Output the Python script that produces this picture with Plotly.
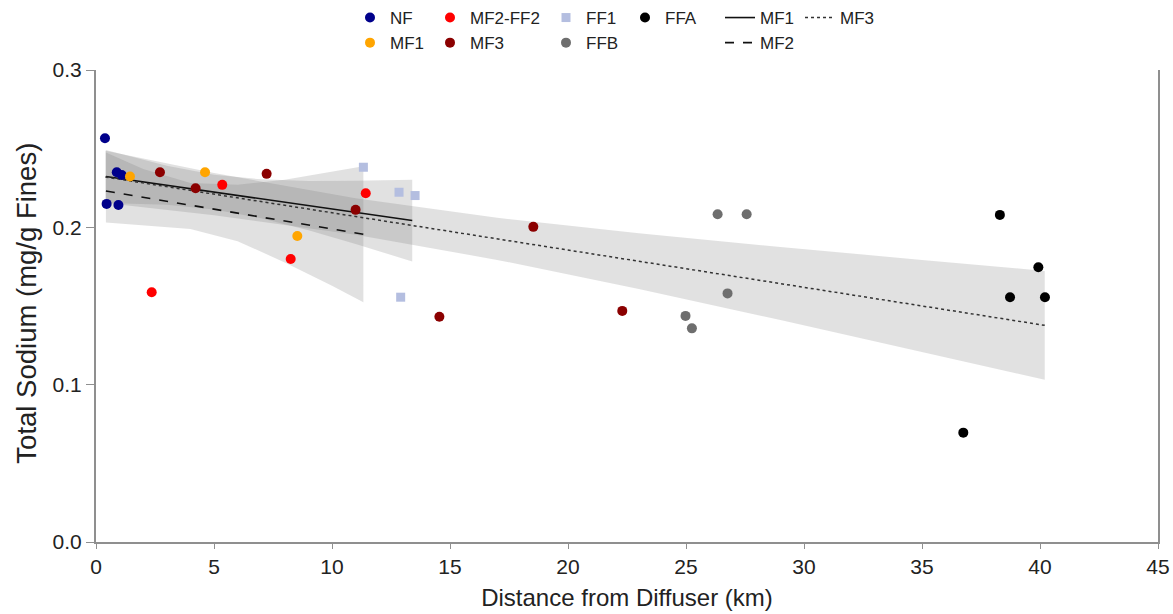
import plotly.graph_objects as go

# ---- sample groups: distance from diffuser (km) vs total sodium (mg/g fines) ----
nf_x = [0.38, 0.88, 1.09, 0.45, 0.95]
nf_y = [0.2566, 0.2350, 0.2333, 0.2149, 0.2142]

mf1_x = [1.44, 4.62, 8.53]
mf1_y = [0.2323, 0.2350, 0.1945]

mf2ff2_x = [2.36, 5.35, 8.25, 11.43]
mf2ff2_y = [0.1587, 0.2270, 0.1799, 0.2217]

mf3_x = [2.71, 4.22, 7.23, 11.00, 14.55, 18.53, 22.30]
mf3_y = [0.2350, 0.2248, 0.2340, 0.2111, 0.1432, 0.2003, 0.1469]

ff1_x = [11.33, 12.84, 13.52, 12.91]
ff1_y = [0.2382, 0.2223, 0.2202, 0.1556]

ffb_x = [26.34, 27.57, 26.76, 24.98, 25.25]
ffb_y = [0.2083, 0.2083, 0.1580, 0.1437, 0.1358]

ffa_x = [38.30, 39.93, 38.73, 40.21, 36.75]
ffa_y = [0.2079, 0.1746, 0.1556, 0.1556, 0.0695]

# ---- regression fits (end points) ----
fit_mf1_x = [0.42, 13.40]
fit_mf1_y = [0.2323, 0.2043]
fit_mf2_x = [0.42, 11.33]
fit_mf2_y = [0.2231, 0.1956]
fit_mf3_x = [0.40, 40.20]
fit_mf3_y = [0.2320, 0.1377]

# ---- 95% confidence bands ----
band_mf1_x = [0.42, 3, 5, 7, 9, 11, 13.4]
band_mf1_lo = [0.2154, 0.2144, 0.2114, 0.2058, 0.1981, 0.1894, 0.1783]
band_mf1_hi = [0.2492, 0.2391, 0.2334, 0.2305, 0.2295, 0.2296, 0.2303]

band_mf2_x = [0.42, 2, 4, 6, 8, 10, 11.33]
band_mf2_lo = [0.2030, 0.2010, 0.1990, 0.1912, 0.1777, 0.1628, 0.1524]
band_mf2_hi = [0.2475, 0.2371, 0.2281, 0.2270, 0.2303, 0.2352, 0.2388]

band_mf3_x = [0.4, 5, 11, 17, 23, 29, 35, 40.2]
band_mf3_lo = [0.2154, 0.2077, 0.1953, 0.1793, 0.1608, 0.1411, 0.1209, 0.1031]
band_mf3_hi = [0.2486, 0.2345, 0.2185, 0.2061, 0.1962, 0.1875, 0.1793, 0.1723]

FONT = "Liberation Sans, Arial, sans-serif"
BAND_FILL = "rgba(120,120,120,0.22)"

fig = go.Figure()

# confidence bands as closed polygons
for bx, lo, hi in [(band_mf3_x, band_mf3_lo, band_mf3_hi),
                   (band_mf1_x, band_mf1_lo, band_mf1_hi),
                   (band_mf2_x, band_mf2_lo, band_mf2_hi)]:
    fig.add_trace(go.Scatter(
        x=list(bx) + list(bx)[::-1], y=list(hi) + list(lo)[::-1],
        mode="lines", fill="toself", fillcolor=BAND_FILL,
        line=dict(width=0), hoverinfo="skip", showlegend=False))

# fitted lines
fig.add_trace(go.Scatter(x=fit_mf1_x, y=fit_mf1_y, mode="lines", name="MF1",
                         line=dict(color="#111111", width=1.6, dash="solid"),
                         legend="legend5"))
fig.add_trace(go.Scatter(x=fit_mf2_x, y=fit_mf2_y, mode="lines", name="MF2",
                         line=dict(color="#111111", width=1.6, dash="dash"),
                         legend="legend5"))
fig.add_trace(go.Scatter(x=fit_mf3_x, y=fit_mf3_y, mode="lines", name="MF3",
                         line=dict(color="#333333", width=1.5, dash="dot"),
                         legend="legend6"))

# sample points
groups = [
    ("NF", nf_x, nf_y, "#00008B", "circle", 10, "legend"),
    ("MF1", mf1_x, mf1_y, "#FFA500", "circle", 10, "legend"),
    ("MF2-FF2", mf2ff2_x, mf2ff2_y, "#FF0000", "circle", 10, "legend2"),
    ("MF3", mf3_x, mf3_y, "#8B0000", "circle", 10, "legend2"),
    ("FF1", ff1_x, ff1_y, "#B4BEE0", "square", 9, "legend3"),
    ("FFB", ffb_x, ffb_y, "#6E6E6E", "circle", 10, "legend3"),
    ("FFA", ffa_x, ffa_y, "#000000", "circle", 10, "legend4"),
]
for name, gx, gy, color, symbol, size, leg in groups:
    fig.add_trace(go.Scatter(x=gx, y=gy, mode="markers", name=name,
                             marker=dict(color=color, symbol=symbol, size=size,
                                         line=dict(width=0)),
                             legend=leg))

W, H = 1173, 614


def legend_at(px_left):
    return dict(x=px_left / W, xref="container", xanchor="left",
                y=1.0, yref="container", yanchor="top",
                orientation="v", bgcolor="rgba(0,0,0,0)",
                font=dict(family=FONT, size=17, color="#222222"),
                itemsizing="trace", tracegroupgap=0)


fig.update_layout(
    width=W, height=H,
    margin=dict(l=96, r=15, t=70, b=72, autoexpand=False),
    paper_bgcolor="white", plot_bgcolor="white",
    font=dict(family=FONT, color="#222222"),
    legend=legend_at(350),
    legend2=legend_at(430),
    legend3=legend_at(546),
    legend4=legend_at(625),
    legend5=legend_at(720),
    legend6=legend_at(800),
    annotations=[dict(
        text="Total Sodium (mg/g Fines)", textangle=-90,
        xref="paper", x=(27 - 96) / (W - 96 - 15), xanchor="center",
        yref="paper", y=0.505, yanchor="middle", showarrow=False,
        font=dict(family=FONT, size=27.5, color="#222222"))],
)

fig.update_xaxes(
    range=[0, 45], dtick=5, tick0=0,
    showgrid=False, zeroline=False,
    showline=True, linecolor="#8f8f8f", linewidth=2,
    ticks="outside", ticklen=5, tickcolor="#8f8f8f", tickwidth=1,
    tickfont=dict(family=FONT, size=21, color="#222222"),
    title=dict(text="Distance from Diffuser (km)", standoff=12,
               font=dict(family=FONT, size=24, color="#222222")),
)
fig.update_yaxes(
    range=[0, 0.3], dtick=0.1, tick0=0, tickformat=".1f",
    showgrid=False, zeroline=False,
    showline=True, linecolor="#8f8f8f", linewidth=2, mirror=True,
    ticks="outside", ticklen=8, tickcolor="#8f8f8f", tickwidth=1,
    tickfont=dict(family=FONT, size=21, color="#222222"),
)

fig.write_html("out.html")
